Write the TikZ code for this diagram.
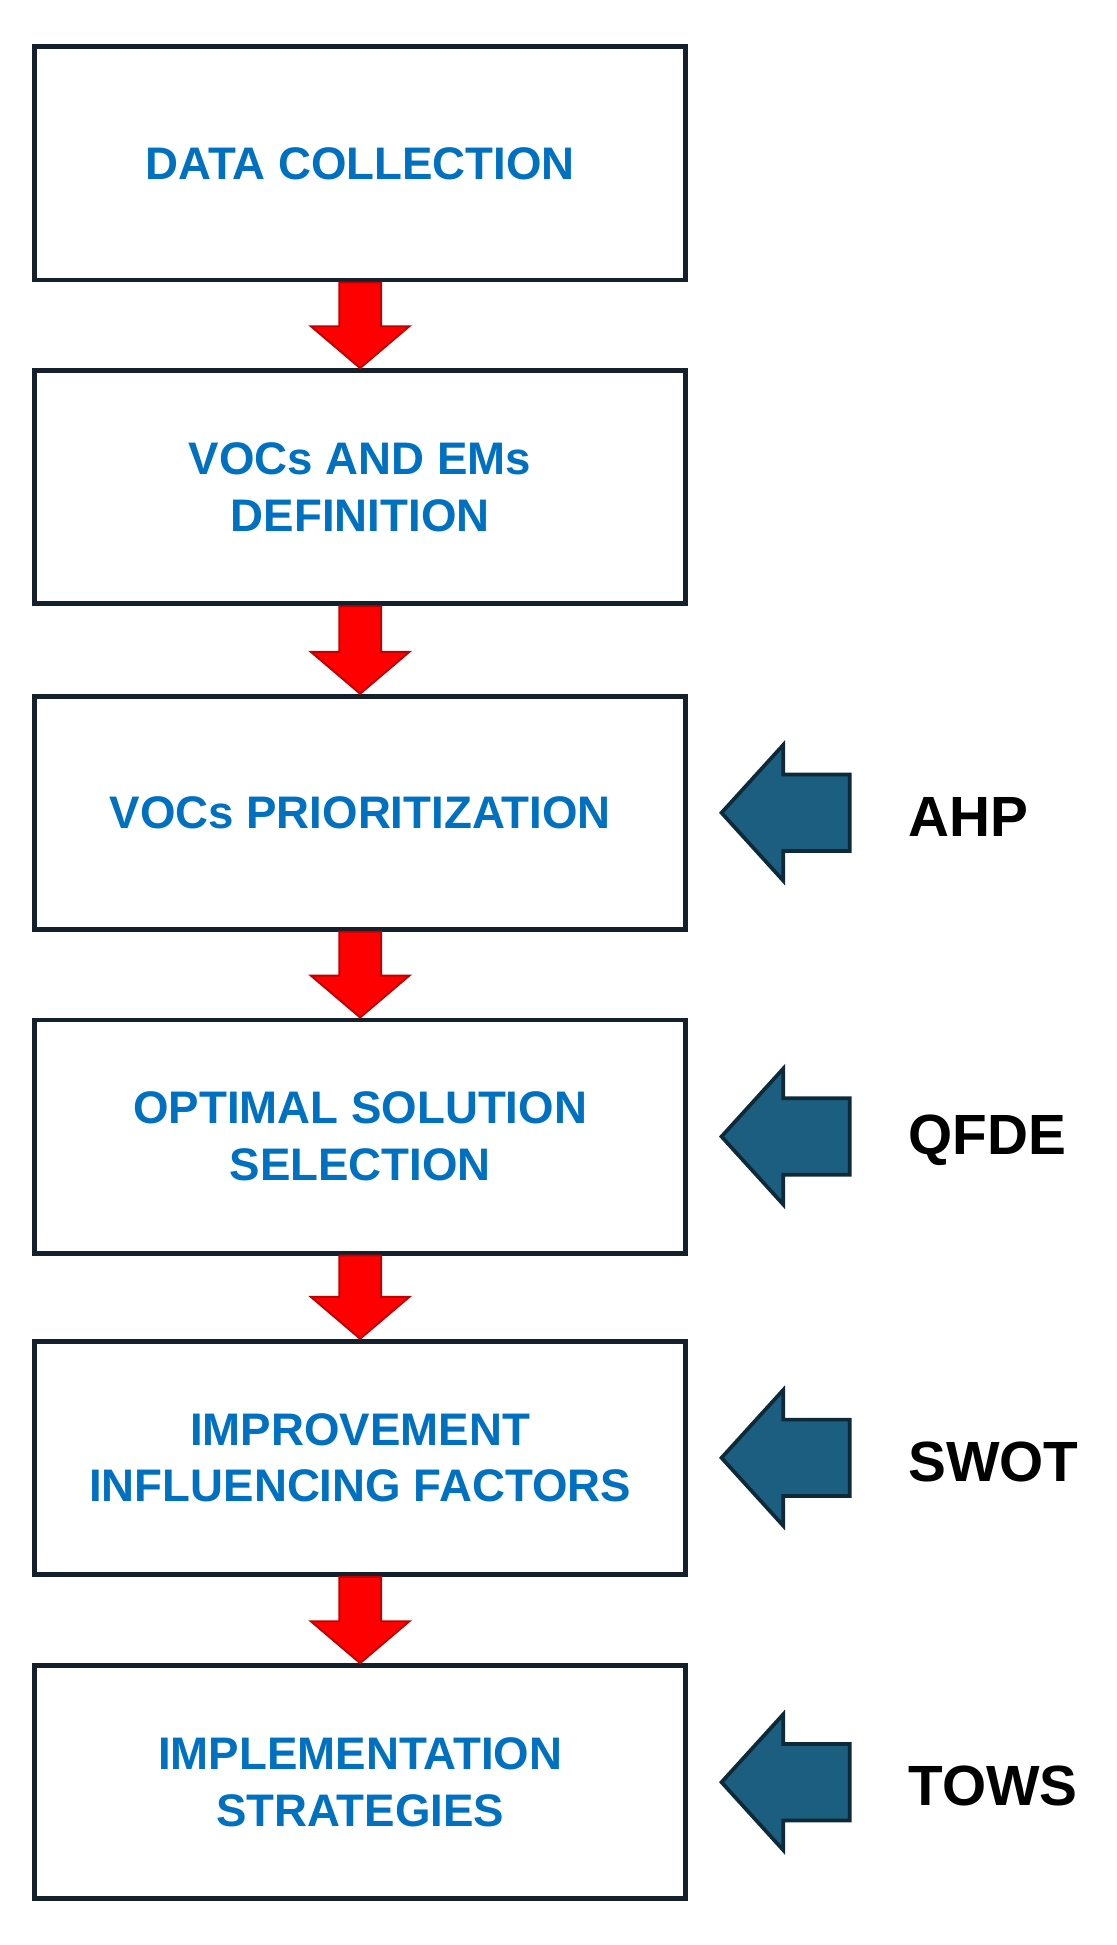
\documentclass[tikz,border=0pt]{standalone}
\usepackage{fontspec}
\setmainfont{Liberation Sans}
\usetikzlibrary{calc}
\begin{document}
\begin{tikzpicture}[x=1pt,y=-1pt,
 box/.style={draw=boxline,line width=4pt,fill=white,minimum width=528pt,minimum height=189pt,inner sep=0pt,text=txtblue,font=\fontsize{37}{46}\selectfont\bfseries,align=center},
 lab/.style={anchor=west,font=\fontsize{46}{50}\selectfont\bfseries},
 red/.style={fill=red,draw=red!75!black,line width=1.5pt,line join=miter},
 blue/.style={fill=arrblue,draw=arrline,line width=3pt,line join=miter}]
\definecolor{boxline}{HTML}{14202C}
\definecolor{txtblue}{HTML}{0070C0}
\definecolor{arrblue}{HTML}{1B5E80}
\definecolor{arrline}{HTML}{0E2A38}
\useasboundingbox (0,0) rectangle (905,1577);
\node[box] (b1) at (292,132.5) {DATA COLLECTION};
\node[box] (b2) at (292,395) {VOCs AND EMs\\DEFINITION};
\node[box] (b3) at (292,659) {VOCs PRIORITIZATION};
\node[box] (b4) at (292,921.5) {OPTIMAL SOLUTION\\SELECTION};
\node[box] (b5) at (292,1182) {IMPROVEMENT\\INFLUENCING FACTORS};
\node[box] (b6) at (292,1445) {IMPLEMENTATION\\STRATEGIES};
\foreach \a/\b in {b1/b2,b2/b3,b3/b4,b4/b5,b5/b6}{
 \path (\a.south) coordinate (s) (\b.north) coordinate (e);
 \draw[red] ($(s)+(-17,0)$) -- ($(s)+(17,0)$) -- ($(e)+(17,-34)$) -- ($(e)+(40,-34)$) -- (e) -- ($(e)+(-40,-34)$) -- ($(e)+(-17,-34)$) -- cycle;
}
\foreach \b/\t/\n in {b3/AHP/l3,b4/QFDE/l4,b5/SWOT/l5,b6/TOWS/l6}{
 \coordinate (tip) at ($(\b.east)+(27,0)$);
 \draw[blue] (tip) -- ($(tip)+(50,-55)$) -- ($(tip)+(50,-31)$) -- ($(tip)+(104,-31)$) -- ($(tip)+(104,31)$) -- ($(tip)+(50,31)$) -- ($(tip)+(50,55)$) -- cycle;
 \node[lab] (\n) at ($(\b.east)+(175,3)$) {\t};
}
\end{tikzpicture}
\end{document}
